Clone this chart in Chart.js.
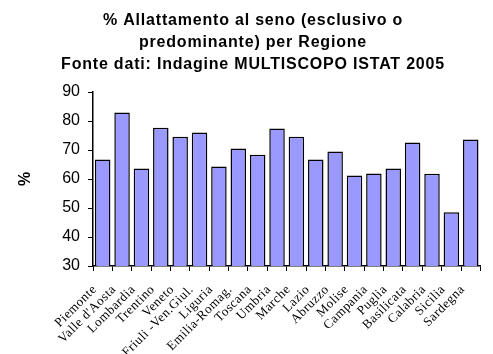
<!DOCTYPE html>
<html><head><meta charset="utf-8">
<script src="https://cdn.jsdelivr.net/npm/chart.js@4/dist/chart.umd.min.js"></script>
<style>html,body{margin:0;padding:0;background:#fff}#wrap{width:493px;height:354px}</style>
</head><body><div id="wrap"><canvas id="c" width="493" height="354"></canvas></div>
<script>
const regions = ["Piemonte","Valle d'Aosta","Lombardia","Trentino","Veneto","Friuli -Ven.Giul.","Liguria","Emilia-Romag.","Toscana","Umbria","Marche","Lazio","Abruzzo","Molise","Campania","Puglia","Basilicata","Calabria","Sicilia","Sardegna"];
const values = [66.7,82.9,63.6,77.7,74.6,76.0,64.3,70.5,68.4,77.4,74.6,66.7,69.5,61.2,61.9,63.6,72.6,61.8,48.5,73.6];
const titleLines = ["% Allattamento al seno (esclusivo o","predominante) per Regione","Fonte dati: Indagine MULTISCOPO ISTAT 2005"];
const yTicks = [30,40,50,60,70,80,90];

const spacingPlugin = {
  id: 'spacing',
  beforeDraw(chart) {
    const wrap = (obj, name, sp, dx) => {
      if (!obj || obj['_w' + name]) return;
      const orig = obj[name];
      obj[name] = function (...a) {
        const c = chart.ctx; c.save();
        c.letterSpacing = sp; c.translate(dx, 0);
        const r = orig.apply(this, a); c.restore(); return r;
      };
      obj['_w' + name] = true;
    };
    wrap(chart.titleBlock, 'draw', '0.8px', 11);
    wrap(chart.scales.x, 'drawLabels', '0.5px', 0);
  }
};

new Chart(document.getElementById('c'), {
  type: 'bar',
  data: { labels: regions, datasets: [{ data: values, backgroundColor: '#9999FF', borderColor: '#000', borderWidth: 1.5, barPercentage: 0.8, categoryPercentage: 1.0 }] },
  plugins: [spacingPlugin],
  options: {
    responsive: false, animation: false, devicePixelRatio: 1,
    layout: { padding: { left: 0, right: 9, top: 0, bottom: 0 } },
    plugins: {
      legend: { display: false }, tooltip: { enabled: false },
      title: { display: true, text: titleLines, color: '#000', font: { family: 'Liberation Sans, Arial', size: 16, weight: 'bold', lineHeight: 1.375 }, padding: { top: 10, bottom: 16 } }
    },
    scales: {
      x: {
        afterFit: s => { s.height = 88; },
        grid: { display: true, drawOnChartArea: false, drawTicks: true, tickLength: 5, color: '#000', offset: true },
        border: { display: true, color: '#000', width: 1.5 },
        ticks: { color: '#000', minRotation: 45, maxRotation: 45, autoSkip: false, padding: 11, labelOffset: -8, font: { family: 'Liberation Serif, Times New Roman', size: 13 } }
      },
      y: {
        min: 30, max: 90,
        afterFit: s => { s.width = 93; },
        afterBuildTicks: s => { s.ticks = yTicks.map(v => ({ value: v })); },
        grid: { display: true, drawOnChartArea: false, drawTicks: true, tickLength: 5, color: '#000' },
        border: { display: true, color: '#000', width: 1.5 },
        title: { display: true, text: '%', color: '#000', font: { family: 'Liberation Sans, Arial', size: 16, weight: 'bold' }, padding: { top: 16, bottom: 0 } },
        ticks: { color: '#000', padding: 8, font: { family: 'Liberation Sans, Arial', size: 16 } }
      }
    }
  }
});
</script></body></html>
